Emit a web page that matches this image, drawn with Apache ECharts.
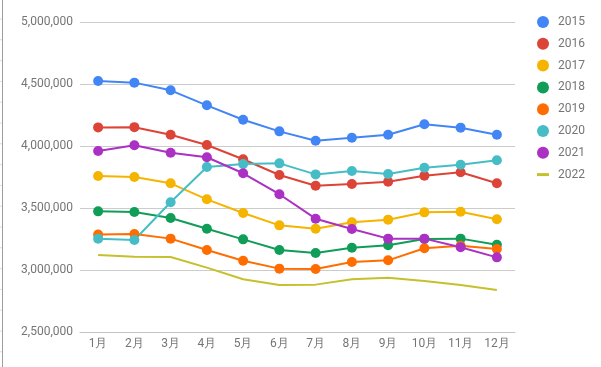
<!DOCTYPE html>
<html><head><meta charset="utf-8">
<script src="https://cdn.jsdelivr.net/npm/echarts@6/dist/echarts.min.js"></script>
<style>html,body{margin:0;padding:0;background:#fff}#c{width:601px;height:367px}</style>
</head><body><div id="c"></div>
<script>
var months = ['1月','2月','3月','4月','5月','6月','7月','8月','9月','10月','11月','12月'];
var years = ['2015','2016','2017','2018','2019','2020','2021','2022'];
var colors = ['#4285F4','#DB4437','#F4B400','#0F9D58','#FF6D01','#46BDC6','#AB30C4','#C5C02C'];
var v2015 = [4524000,4511000,4449000,4328000,4212000,4118000,4043000,4067000,4091000,4175000,4148000,4091000];
var v2016 = [4150000,4152000,4091000,4008000,3893000,3766000,3680000,3694000,3712000,3760000,3788000,3699000];
var v2017 = [3758000,3750000,3699000,3570000,3460000,3360000,3333000,3385000,3406000,3465000,3470000,3409000];
var v2018 = [3473000,3468000,3419000,3333000,3247000,3161000,3137000,3180000,3199000,3250000,3253000,3204000];
var v2019 = [3287000,3290000,3253000,3161000,3075000,3011000,3008000,3065000,3078000,3175000,3196000,3169000];
var v2020 = [3253000,3242000,3546000,3831000,3855000,3860000,3771000,3798000,3774000,3825000,3849000,3885000];
var v2021 = [3960000,4006000,3946000,3909000,3780000,3611000,3414000,3331000,3253000,3253000,3183000,3102000];
var v2022 = [3121000,3107000,3105000,3019000,2925000,2879000,2882000,2925000,2938000,2911000,2879000,2839000];
var yMin = 2500000, yMax = 5000000, yStep = 500000;
var allData = [v2015,v2016,v2017,v2018,v2019,v2020,v2021,v2022];

var series = years.map(function(y,i){
  var last = i === years.length-1;
  return {
    name: y, type: 'line', data: allData[i],
    symbol: last ? 'none' : 'circle', symbolSize: 10,
    showSymbol: !last,
    lineStyle: {width: 2, color: colors[i]},
    itemStyle: {color: colors[i]},
    emphasis: {disabled: true},
    animation: false
  };
});
var legendData = years.map(function(y,i){
  if (i === years.length-1) return {name: y, icon: 'path://M0,0L0,0M0,4.5L12,4.5L12,7.5L0,7.5ZM12,12L12,12'};
  return {name: y, icon: 'circle'};
});

var ticks = [];
for (var t = 0; t < 17; t++) {
  ticks.push({type:'line', shape:{x1:0,y1:19+t*20.8,x2:2,y2:19+t*20.8}, style:{stroke:'#ddd',lineWidth:1}, silent:true});
}
ticks.push({type:'line', shape:{x1:2.5,y1:0,x2:2.5,y2:367}, style:{stroke:'#9e9e9e',lineWidth:1}, silent:true});

var chart = echarts.init(document.getElementById('c'), null, {renderer:'canvas'});
chart.setOption({
  animation: false,
  color: colors,
  textStyle: {fontFamily: 'Roboto'},
  grid: {left: 80, right: 86, top: 22, bottom: 35, containLabel: false},
  legend: {
    orient: 'vertical', left: 532, top: 11,
    itemWidth: 12, itemHeight: 12, itemGap: 9.8,
    data: legendData,
    textStyle: {fontFamily: 'Roboto', fontSize: 12, color: '#757575', padding: [0,0,0,4], lineHeight: 12}
  },
  xAxis: {
    type: 'category', data: months, boundaryGap: true,
    axisLine: {show: true, lineStyle: {color: '#c4c4c4', width: 1}},
    axisTick: {show: false},
    axisLabel: {fontFamily: 'Roboto', fontSize: 12, color: '#757575', margin: 6, interval: 0}
  },
  yAxis: {
    type: 'value', min: yMin, max: yMax, interval: yStep,
    axisLine: {show: false}, axisTick: {show: false},
    splitLine: {lineStyle: {color: '#cccccc', width: 1}},
    axisLabel: {fontFamily: 'Roboto', fontSize: 12, color: '#757575', margin: 7,
      formatter: function(v){ return v.toLocaleString('en-US'); }}
  },
  graphic: ticks,
  series: series
});
</script></body></html>
